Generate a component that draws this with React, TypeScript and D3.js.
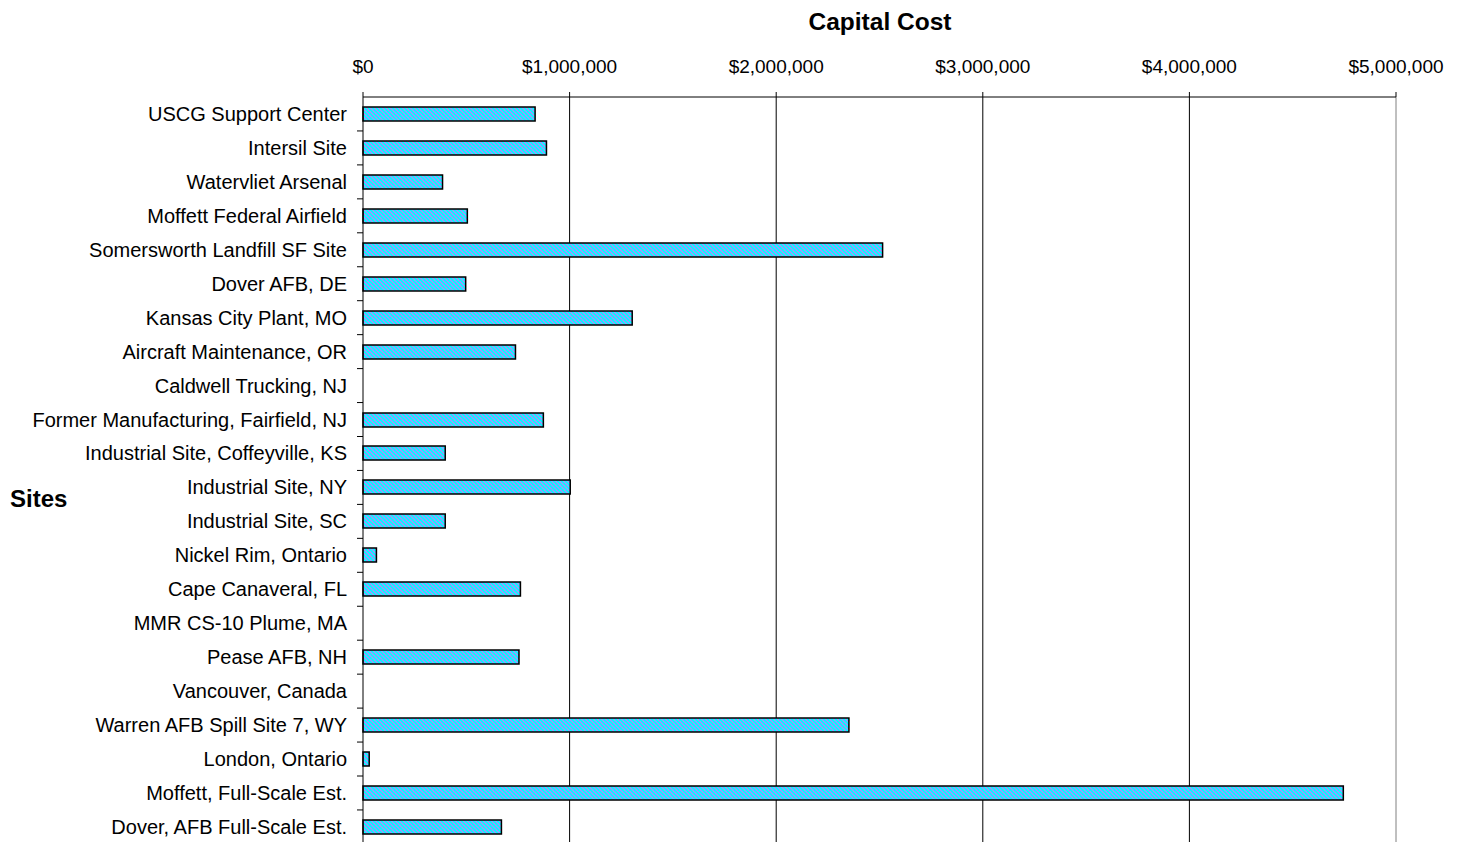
import React, { useEffect } from 'react';
import * as d3 from 'd3';

const sites = [
  'USCG Support Center',
  'Intersil Site',
  'Watervliet Arsenal',
  'Moffett Federal Airfield',
  'Somersworth Landfill SF Site',
  'Dover AFB, DE',
  'Kansas City Plant, MO',
  'Aircraft Maintenance, OR',
  'Caldwell Trucking, NJ',
  'Former Manufacturing, Fairfield, NJ',
  'Industrial Site, Coffeyville, KS',
  'Industrial Site, NY',
  'Industrial Site, SC',
  'Nickel Rim, Ontario',
  'Cape Canaveral, FL',
  'MMR CS-10 Plume, MA',
  'Pease AFB, NH',
  'Vancouver, Canada',
  'Warren AFB Spill Site 7, WY',
  'London, Ontario',
  'Moffett, Full-Scale Est.',
  'Dover, AFB Full-Scale Est.',
];

const capitalCost = [
  833000, 888000, 385000, 505000, 2515000, 497000, 1303000, 738000, 0,
  873000, 398000, 1003000, 398000, 65000, 762000, 0, 755000, 0,
  2352000, 30000, 4745000, 670000,
];

const costTicks = [0, 1000000, 2000000, 3000000, 4000000, 5000000];

const W = 1457;
const H = 842;
const left = 363;
const right = 1396;
const top = 97;
const step = 33.95;

// 4x4 pixel tile for the hatch: cyan where (col - row) mod 4 is 0 or 1
const tile: [number, number][] = [];
for (let r = 0; r < 4; r++) {
  for (let c = 0; c < 4; c++) {
    if (((c - r) % 4 + 4) % 4 < 2) tile.push([c, r]);
  }
}

const App: React.FC = () => {
  useEffect(() => {
    document.body.style.margin = '0';
  }, []);

  const x = d3.scaleLinear().domain([0, 5000000]).range([left, right]);
  const y = d3.scaleBand<string>()
    .domain(sites)
    .range([top, top + step * sites.length])
    .paddingInner(0)
    .paddingOuter(0);
  const bw = y.bandwidth();
  const barH = 14;
  const fmt = (v: number) => '$' + d3.format(',')(v);
  const font = 'Arial, "Liberation Sans", Helvetica, sans-serif';

  return (
    <svg width={W} height={H} style={{ display: 'block', background: '#fff' }} fontFamily={font}>
      <defs>
        <pattern id="stripes" width={4} height={4} patternUnits="userSpaceOnUse">
          <rect width={4} height={4} fill="#9999ff" shapeRendering="crispEdges" />
          {tile.map(([c, r]) => (
            <rect key={c + '-' + r} x={c} y={r} width={1} height={1} fill="#00ffff" shapeRendering="crispEdges" />
          ))}
        </pattern>
      </defs>

      <text x={880} y={30} textAnchor="middle" fontSize={24.5} fontWeight="bold">Capital Cost</text>
      <text x={10} y={507} fontSize={24} fontWeight="bold">Sites</text>

      {/* gridlines */}
      {costTicks.slice(1).map(t => (
        <line key={'g' + t} x1={x(t)} x2={x(t)} y1={top} y2={H}
          stroke={t === 5000000 ? '#808080' : '#000'} strokeWidth={1} />
      ))}

      {/* top axis */}
      <line x1={left} x2={right} y1={top} y2={top} stroke="#000" strokeWidth={1} />
      {costTicks.map(t => (
        <g key={'t' + t}>
          <line x1={x(t)} x2={x(t)} y1={top - 5} y2={top} stroke="#000" />
          <text x={x(t)} y={73} textAnchor="middle" fontSize={19}>{fmt(t)}</text>
        </g>
      ))}

      {/* bars */}
      {sites.map((s, i) => {
        const cy = (y(s) as number) + bw / 2;
        const v = capitalCost[i];
        if (v <= 0) return null;
        return (
          <rect key={'b' + s} x={x(0)} y={Math.round(cy - barH / 2)} width={x(v) - x(0)} height={barH}
            fill="url(#stripes)" stroke="#000" strokeWidth={1.5} />
        );
      })}

      {/* left axis */}
      <line x1={left} x2={left} y1={top} y2={H} stroke="#000" strokeWidth={1} />
      {sites.map(s => (
        <line key={'c' + s} x1={left - 6} x2={left} y1={(y(s) as number) + bw} y2={(y(s) as number) + bw} stroke="#000" />
      ))}
      {sites.map(s => (
        <text key={'l' + s} x={347} y={(y(s) as number) + bw / 2} dy="0.35em" textAnchor="end" fontSize={20}>{s}</text>
      ))}
    </svg>
  );
};

export default App;
